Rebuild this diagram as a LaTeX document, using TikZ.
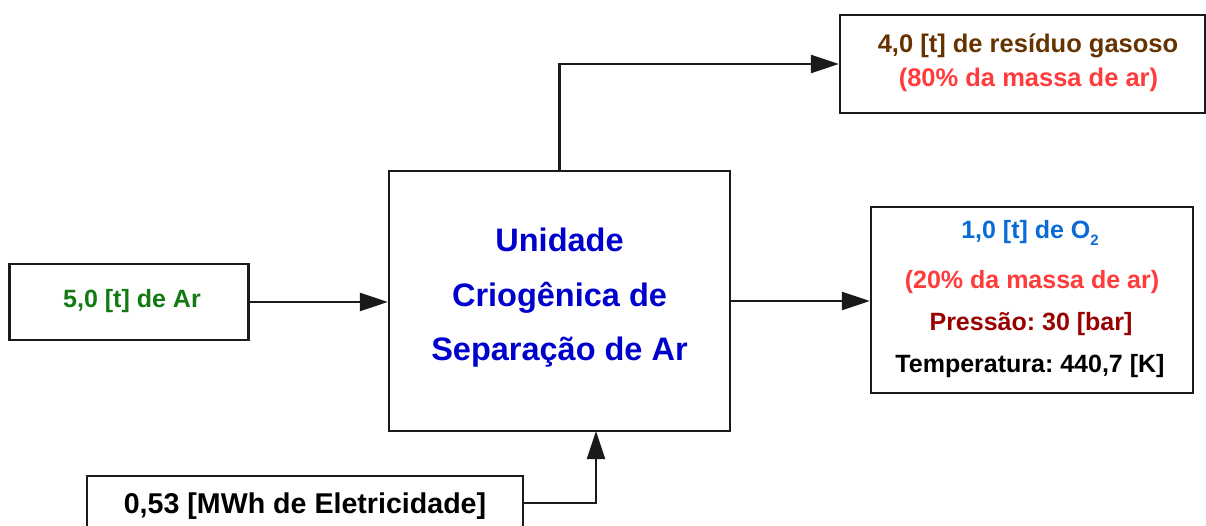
\documentclass[tikz,border=0pt]{standalone}
\usepackage{fontspec}
\setmainfont{Liberation Sans}
\usetikzlibrary{arrows.meta}
\definecolor{cgreen}{HTML}{137A13}
\definecolor{cblue}{HTML}{0000CC}
\definecolor{cbrown}{HTML}{663300}
\definecolor{cred}{HTML}{FF3B3B}
\definecolor{clblue}{HTML}{0A6BD6}
\definecolor{cdred}{HTML}{990000}
\definecolor{cline}{HTML}{1A1A1A}
\frenchspacing
\begin{document}
\begin{tikzpicture}[x=1pt,y=-1pt,
  box/.style={draw=cline, line width=2.3pt, inner sep=0pt, fill=white},
  flow/.style={draw=cline, line width=2.3pt, -{Triangle[length=28pt,width=18pt]}},
  txt/.style={anchor=base, inner sep=0pt, align=center}]
\useasboundingbox (0,0) rectangle (1206,526);
% boxes
\node[box, minimum width=239pt, minimum height=76pt] (ar) at (129,302) {};
\node[box, minimum width=341pt, minimum height=260pt] (main) at (559.5,301) {};
\node[box, minimum width=365pt, minimum height=98pt] (top) at (1022.5,64) {};
\node[box, minimum width=322pt, minimum height=186pt] (o2) at (1032,300) {};
\node[box, minimum width=436pt, minimum height=54pt] (elec) at (305,503) {};
\coordinate (einto) at (596,431);
% connectors
\draw[flow] (ar.east) -- (ar.east -| main.west);
\draw[flow] (main.east) -- (main.east -| o2.west);
\draw[flow] (main.north) |- (top.west);
\draw[flow] (elec.east) -| (einto);
% texts
\node[txt, text=cgreen, font=\bfseries\fontsize{25}{30}\selectfont] (tar) at (132,307) {5,0 [t] de Ar};
\node[txt, text=cblue, font=\bfseries\fontsize{32.5}{39}\selectfont] (tm1) at (559.5,252) {Unidade};
\node[txt, text=cblue, font=\bfseries\fontsize{32.5}{39}\selectfont] (tm2) at (559.5,306) {Criogênica de};
\node[txt, text=cblue, font=\bfseries\fontsize{32.5}{39}\selectfont] (tm3) at (559.5,360) {Separação de Ar};
\node[txt, text=cbrown, font=\bfseries\fontsize{25.5}{30}\selectfont] (tt1) at (1028,53) {4,0 [t] de resíduo gasoso};
\node[txt, text=cred, font=\bfseries\fontsize{25.5}{30}\selectfont] (tt2) at (1028.5,87) {(80\% da massa de ar)};
\node[txt, text=clblue, font=\bfseries\fontsize{25}{30}\selectfont] (to1) at (1030,239) {1,0 [t] de O\raisebox{-7pt}{\fontsize{15}{15}\selectfont 2}};
\node[txt, text=cred, font=\bfseries\fontsize{25}{30}\selectfont] (to2) at (1032,289) {(20\% da massa de ar)};
\node[txt, text=cdred, font=\bfseries\fontsize{25}{30}\selectfont] (to3) at (1031,330) {Pressão: 30 [bar]};
\node[txt, text=black, font=\bfseries\fontsize{25}{30}\selectfont] (to4) at (1030,372) {Temperatura: 440,7 [K]};
\node[txt, text=black, font=\bfseries\fontsize{28.6}{34}\selectfont] (tel) at (305,513) {0,53 [MWh de Eletricidade]};
\end{tikzpicture}
\end{document}
